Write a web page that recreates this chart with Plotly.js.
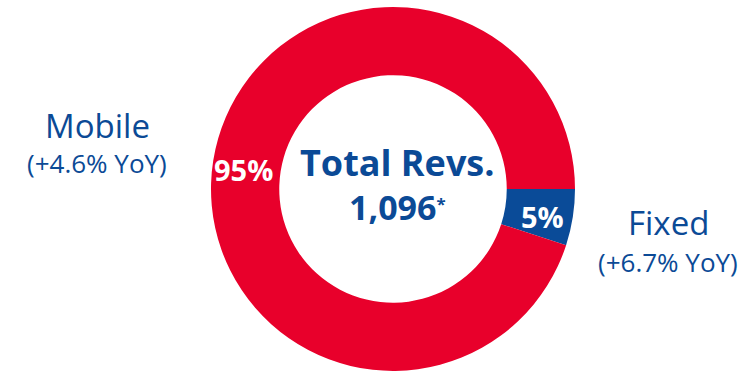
<!DOCTYPE html>
<html><head><meta charset="utf-8">
<script src="https://cdn.plot.ly/plotly-3.0.1.min.js"></script>
<style>html,body{margin:0;padding:0;background:#fff}#c{width:753px;height:372px}</style>
</head><body><div id="c"></div>
<script>
const categories = ["Fixed", "Mobile"];
const shares = [5, 95];
const sliceText = ["5%", "95%"];
const growth = ["(+6.7% YoY)", "(+4.6% YoY)"];
const totalLabel = "Total Revs.";
const totalValue = "1,096";

const RED = "#E8002B", BLUE = "#0A4B98", TXT = "#0B4A96";
const FONT = "'Open Sans', Lato, sans-serif";
const W = 753, H = 372, cx = 393, cy = 189, R = 182, HOLE = 0.625;

const trace = {
  type: "pie", labels: categories, values: shares,
  sort: false, direction: "clockwise", rotation: 90, hole: HOLE,
  textinfo: "none",
  marker: {colors: [BLUE, RED], line: {width: 0}},
  domain: {x: [(cx - R) / W, (cx + R) / W], y: [(H - cy - R) / H, (H - cy + R) / H]},
  hoverinfo: "label+percent", showlegend: false
};

function ann(text, x, y, size, color) {
  return {text: text, x: x / W, y: 1 - y / H, xref: "paper", yref: "paper",
          xanchor: "center", yanchor: "middle", showarrow: false,
          font: {family: FONT, size: size, color: color || TXT}};
}

// slice labels placed at each slice's mid-angle on the middle of the ring
const total = shares.reduce((a, b) => a + b, 0);
const rMid = R * (1 + HOLE) / 2 + 3;
let acc = 0;
const sliceAnns = shares.map((v, i) => {
  const mid = (acc + v / 2) / total * 2 * Math.PI; // clockwise from 3 o'clock
  acc += v;
  const x = cx + rMid * Math.cos(mid), y = cy + rMid * Math.sin(mid);
  return ann("<b>" + sliceText[i] + "</b>", x, y + 4, 29, "#fff");
});

const layout = {
  width: W, height: H, margin: {l: 0, r: 0, t: 0, b: 0},
  paper_bgcolor: "#fff", showlegend: false,
  annotations: sliceAnns.concat([
    ann("<b>" + totalLabel + "</b>", 397, 162, 36),
    ann("<b>" + totalValue + "<span style='font-size:24px'><sup>*</sup></span></b>", 397, 207, 34),
    ann(categories[1], 97, 126, 33),
    ann(growth[1], 97, 163, 26),
    ann(categories[0], 668, 222, 33),
    ann(growth[0], 668, 262, 26)
  ])
};
Plotly.newPlot("c", [trace], layout, {displayModeBar: false, staticPlot: true});
</script></body></html>
